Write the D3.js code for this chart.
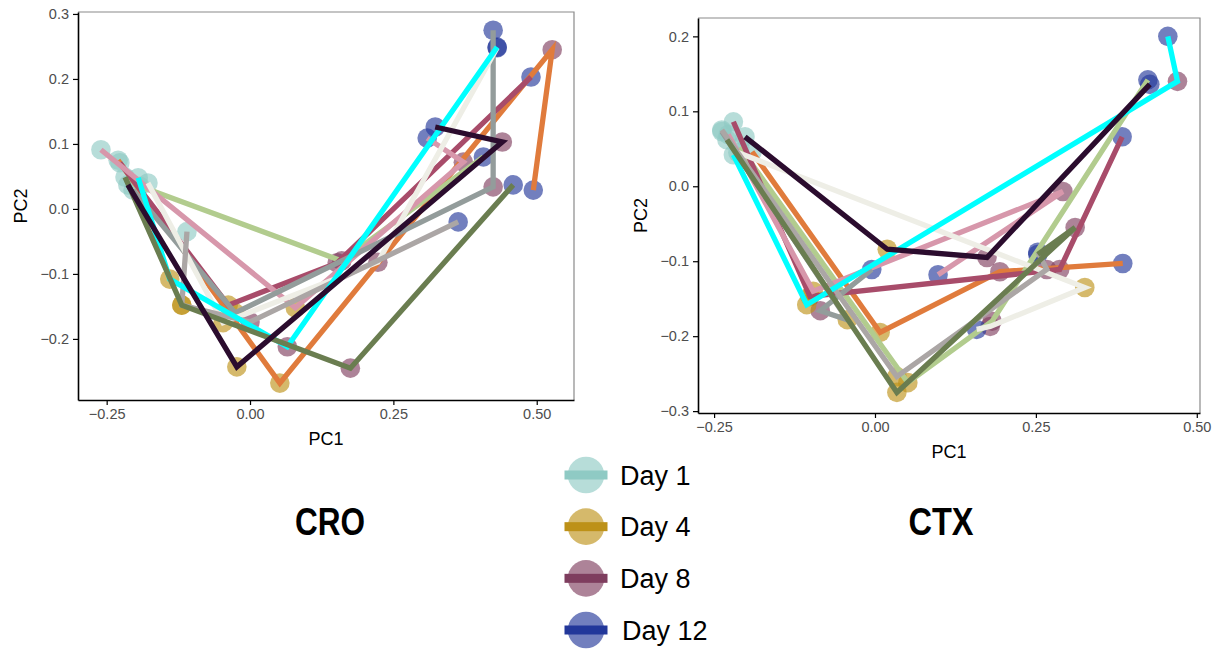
<!DOCTYPE html>
<html>
<head>
<meta charset="utf-8">
<script src="https://cdn.jsdelivr.net/npm/d3@7"></script>
<style>
  body { margin: 0; background: #fff; }
  svg { display: block; font-family: "Liberation Sans", Arial, sans-serif; }
</style>
</head>
<body>
<svg id="chart" width="1223" height="652"></svg>
<script>
// days (sampling points) and their colours
var days = ["Day 1", "Day 4", "Day 8", "Day 12"];
var dayColors = ["#8fcac4", "#bd9118", "#7e3d5e", "#22379a"];

// one trajectory per subject, drawn in this order
var subjects = ["S1", "S2", "S3", "S4", "S5", "S6", "S7", "S8", "S9", "S10"];
var subjectColors = ["#e07b3c", "#b2cc8e", "#a84c6a", "#d797ab", "#939c9b",
                     "#eeeee6", "#aba6a5", "#00ffff", "#6a7d50", "#2b0c2e"];

// CRO : PC1 / PC2 per subject, values for Day 1, 4, 8, 12 (null = missing)
var croPC1 = [
  [-0.230,  0.052,  0.527,  0.494],
  [-0.192,  null,   0.160,  0.407],
  [-0.227, -0.038,  0.152,  0.490],
  [-0.260,  0.079,  0.372,  0.309],
  [-0.204, -0.026,  0.424,  0.424],
  [-0.178, -0.047,  0.223,  0.431],
  [-0.110, -0.119,  0.000,  0.363],
  [-0.195, -0.140,  0.065,  0.431],
  [-0.218, -0.119,  0.175,  0.459],
  [-0.213, -0.023,  0.440,  0.323]
];
var croPC2 = [
  [ 0.075, -0.268,  0.245,  0.029],
  [ 0.035,  null,  -0.080,  0.080],
  [ 0.071, -0.148, -0.083,  0.203],
  [ 0.091, -0.152,  0.072,  0.109],
  [ 0.029, -0.160,  0.034,  0.275],
  [ 0.040, -0.175, -0.082,  0.248],
  [-0.035, -0.148, -0.174, -0.020],
  [ 0.048, -0.108, -0.212,  0.249],
  [ 0.049, -0.148, -0.245,  0.037],
  [ 0.037, -0.243,  0.103,  0.126]
];

// CTX
var ctxPC1 = [
  [-0.191,  0.008,  0.194,  0.385],
  [-0.210,  0.051,  0.182,  0.424],
  [-0.220, -0.101,  0.287,  0.384],
  [-0.228, -0.096,  0.292,  0.098],
  [-0.238, -0.043, -0.085, -0.005],
  [-0.213,  0.326,  0.179,  0.158],
  [-0.238,  0.034,  0.267,  0.253],
  [-0.220, -0.106,  0.470,  0.455],
  [-0.230,  0.034,  0.311,  0.253],
  [-0.202,  0.019,  0.174,  0.427]
];
var ctxPC2 = [
  [ 0.046, -0.195, -0.114, -0.103],
  [ 0.052, -0.262, -0.180,  0.142],
  [ 0.086, -0.147, -0.111,  0.066],
  [ 0.069, -0.140, -0.007, -0.118],
  [ 0.073, -0.178, -0.166, -0.111],
  [ 0.045, -0.135, -0.187, -0.191],
  [ 0.075, -0.254, -0.111, -0.088],
  [ 0.042, -0.158,  0.140,  0.200],
  [ 0.062, -0.275, -0.055, -0.091],
  [ 0.066, -0.084, -0.095,  0.136]
];

var xTicks = [-0.25, 0, 0.25, 0.5];
var croYTicks = [-0.2, -0.1, 0, 0.1, 0.2, 0.3];
var ctxYTicks = [-0.3, -0.2, -0.1, 0, 0.1, 0.2];

var svg = d3.select("#chart");

function panel(pc1, pc2, opts) {
  var x = d3.scaleLinear().domain(opts.xDomain).range([opts.left, opts.right]);
  var y = d3.scaleLinear().domain(opts.yDomain).range([opts.bottom, opts.top]);
  var g = svg.append("g");

  // gray top / right border
  g.append("path")
    .attr("d", "M" + opts.left + "," + opts.top + "H" + opts.right + "V" + opts.bottom)
    .attr("fill", "none").attr("stroke", "#8a8a8a").attr("stroke-width", 1.2);

  // build per-subject point lists
  var tracks = subjects.map(function(s, i) {
    var pts = [];
    days.forEach(function(d, j) {
      if (pc1[i][j] != null) pts.push({ day: j, x: pc1[i][j], y: pc2[i][j] });
    });
    return { id: s, color: subjectColors[i], pts: pts };
  });

  var allPts = [];
  tracks.forEach(function(t) { allPts = allPts.concat(t.pts); });

  g.selectAll(".pt")
    .data(allPts)
    .enter()
    .append("circle")
    .attr("cx", function(d) { return x(d.x); })
    .attr("cy", function(d) { return y(d.y); })
    .attr("r", 9.8)
    .attr("fill", function(d) { return dayColors[d.day]; })
    .attr("fill-opacity", 0.64);

  var line = d3.line().x(function(d) { return x(d.x); }).y(function(d) { return y(d.y); });
  g.selectAll(".trk")
    .data(tracks)
    .enter()
    .append("path")
    .attr("d", function(d) { return line(d.pts); })
    .attr("fill", "none")
    .attr("stroke", function(d) { return d.color; })
    .attr("stroke-width", 5.3)
    .attr("stroke-linejoin", "miter");

  var xAxis = g.append("g")
    .attr("transform", "translate(0," + opts.bottom + ")")
    .call(d3.axisBottom(x).tickValues(xTicks).tickFormat(d3.format(".2f"))
      .tickSize(5).tickSizeOuter(0).tickPadding(4));
  var yAxis = g.append("g")
    .attr("transform", "translate(" + opts.left + ",0)")
    .call(d3.axisLeft(y).tickValues(opts.yTicks).tickFormat(d3.format(".1f"))
      .tickSize(5).tickSizeOuter(0).tickPadding(4));
  [xAxis, yAxis].forEach(function(a) {
    a.select(".domain").attr("stroke", "#000").attr("stroke-width", 1.6);
    a.selectAll(".tick line").attr("stroke", "#000").attr("stroke-width", 1.2);
    a.selectAll(".tick text").attr("fill", "#4d4d4d").style("font-size", "14.5px")
      .style("font-family", "'Liberation Sans', Arial, sans-serif");
  });

  g.append("text")
    .attr("x", (opts.left + opts.right) / 2)
    .attr("y", opts.bottom + 45)
    .attr("text-anchor", "middle")
    .style("font-size", "18px")
    .text("PC1");
  g.append("text")
    .attr("transform", "translate(" + (opts.left - 51) + "," + ((opts.top + opts.bottom) / 2) + ") rotate(-90)")
    .attr("text-anchor", "middle")
    .style("font-size", "18px")
    .text("PC2");

  svg.append("text")
    .attr("x", opts.titleX - opts.titleW / 2)
    .attr("y", 535)
    .attr("textLength", opts.titleW)
    .attr("lengthAdjust", "spacingAndGlyphs")
    .style("font-size", "38px")
    .style("font-weight", "bold")
    .text(opts.title);
}

panel(croPC1, croPC2, {
  left: 78, right: 574, top: 12, bottom: 400,
  xDomain: [-0.300, 0.565], yDomain: [-0.294, 0.303],
  yTicks: croYTicks, title: "CRO", titleX: 330, titleW: 70
});
panel(ctxPC1, ctxPC2, {
  left: 698, right: 1200, top: 18, bottom: 413,
  xDomain: [-0.275, 0.505], yDomain: [-0.3025, 0.2245],
  yTicks: ctxYTicks, title: "CTX", titleX: 941, titleW: 65
});

// legend
var ly = d3.scalePoint().domain(days).range([475, 630]);
var leg = svg.append("g")
  .selectAll("g")
  .data(days)
  .enter()
  .append("g")
  .attr("transform", function(d) { return "translate(586," + ly(d) + ")"; });
leg.append("circle")
  .attr("r", 18.3)
  .attr("fill", function(d, i) { return dayColors[i]; })
  .attr("fill-opacity", 0.64);
leg.append("rect")
  .attr("x", -21.5).attr("y", -4.5)
  .attr("width", 43).attr("height", 9)
  .attr("fill", function(d, i) { return dayColors[i]; });
leg.append("text")
  .attr("x", function(d, i) { return i === 3 ? 36 : 34; })
  .attr("dy", "0.36em")
  .style("font-size", "27px")
  .text(function(d) { return d; });
</script>
</body>
</html>
